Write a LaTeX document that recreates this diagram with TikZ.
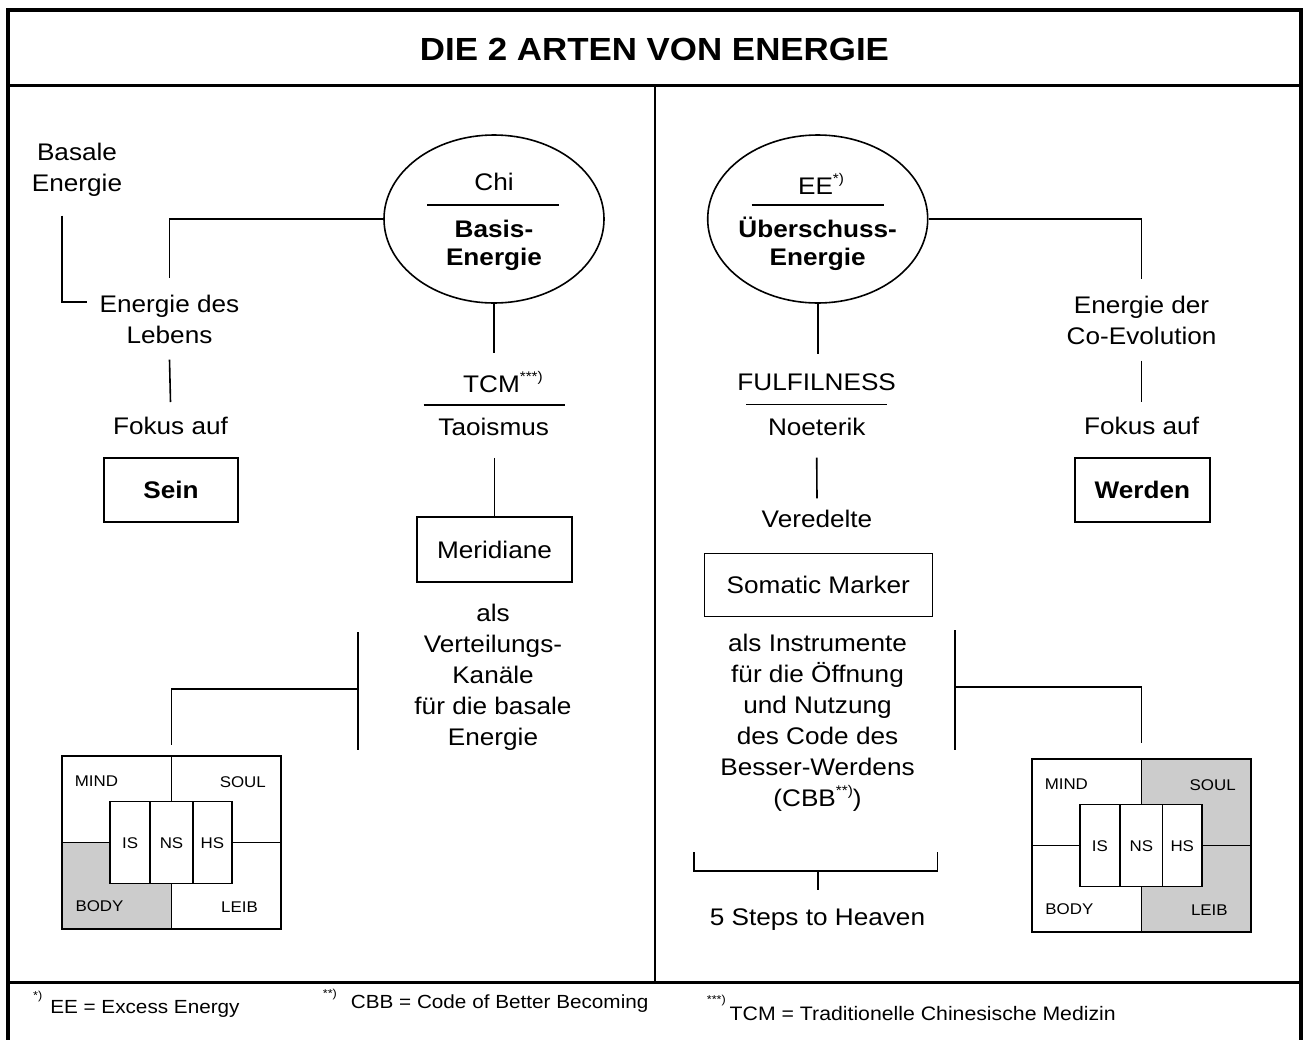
\documentclass[tikz,border=0pt]{standalone}
\usepackage{fontspec}
\setmainfont[FakeStretch=1.09]{Liberation Sans}
\usetikzlibrary{shapes.geometric,calc}
\definecolor{cellgray}{RGB}{204,204,204}

\newcommand{\bodyfont}{\fontsize{24}{31}\selectfont}
% raised footnote marks
\newcommand{\smk}[1]{\raisebox{11pt}{\fontsize{14}{14}\selectfont #1}}
\newcommand{\fnm}[2]{\raisebox{#1}{\fontsize{11.5}{11.5}\selectfont #2}}

% quadrant diagram: #1 name, #2 centre, #3 shading code
\newcommand{\quadgrid}[3]{%
  \node[minimum width=219pt, minimum height=173pt, inner sep=0pt, outer sep=0pt] (#1) at #2 {};
  #3
  \draw[conn] (#1.north west) rectangle (#1.south east);
  \draw[conn] (#1.north) -- (#1.south);
  \draw[conn] (#1.west) -- (#1.east);
  \draw[conn, fill=white] ($(#1.center)+(-61.5,-41)$) rectangle ($(#1.center)+(60.5,41)$);
  \draw[conn] ($(#1.center)+(-21.3,-41)$) -- ($(#1.center)+(-21.3,41)$);
  \draw[conn] ($(#1.center)+(21.3,-41)$) -- ($(#1.center)+(21.3,41)$);
  \node[lbl] (#1-mind) at ($(#1.center)+(-75,-61.5)$) {MIND};
  \node[lbl] (#1-soul) at ($(#1.center)+(71.3,-60.5)$) {SOUL};
  \node[lbl] (#1-body) at ($(#1.center)+(-72,63.5)$) {BODY};
  \node[lbl] (#1-leib) at ($(#1.center)+(68,65)$) {LEIB};
  \node[lbl] (#1-is) at ($(#1.center)+(-41.4,0.5)$) {IS};
  \node[lbl] (#1-ns) at ($(#1.center)+(0,0.5)$) {NS};
  \node[lbl] (#1-hs) at ($(#1.center)+(40.9,0.5)$) {HS};
}

\begin{document}
\begin{tikzpicture}[x=1pt, y=-1pt,
  conn/.style={line width=1.6pt},
  txt/.style={inner sep=0pt, align=center, font=\bodyfont},
  boxed/.style={draw, line width=1.6pt, inner sep=0pt, font=\bodyfont},
  oval/.style={ellipse, draw, line width=1.6pt, minimum width=220pt, minimum height=168pt, inner sep=0pt},
  lbl/.style={inner sep=0pt, font=\fontsize{15.5}{15.5}\selectfont},
  ovaltxt/.style={inner sep=0pt, align=center, font=\fontsize{24}{28}\selectfont\bfseries},
  fn/.style={anchor=base west, inner sep=0pt, font=\fontsize{19}{19}\selectfont}]
\useasboundingbox (0,0) rectangle (1308,1039);

% frame, title band, footer band, column divider
\draw[line width=4pt, line join=miter] (8,1046) -- (8,10) -- (1301,10) -- (1301,1046);
\draw[line width=3.5pt] (8,85.5) -- (1301,85.5);
\draw[line width=3pt] (8,982) -- (1301,982);
\draw[line width=2.5pt] (655,85.5) -- (655,982);

\node[inner sep=0pt, font=\fontsize{32}{32}\selectfont\bfseries] (title) at (654.5,49.5) {DIE 2 ARTEN VON ENERGIE};

% ---------- left column: basic energy ----------
\node[txt, anchor=north] (basale) at (77,143.3) {Basale\\Energie};
\node[txt, anchor=north] (lebens) at (169.5,295) {Energie des\\Lebens};
\node[txt, anchor=north] (fokusL) at (170.5,416.5) {Fokus auf};
\node[boxed, minimum width=134pt, minimum height=64pt, font=\bodyfont\bfseries] (sein) at (171,490) {Sein};

\node[oval] (chi) at (494,219) {};
\node[txt, anchor=north] (chiname) at (494,173.3) {Chi};
\draw[conn] ($(chi.center)+(-67,-14)$) -- ($(chi.center)+(65,-14)$);
\node[ovaltxt, anchor=north] (basis) at (494,220) {Basis-\\Energie};

\node[txt, anchor=north] (tcm) at (491.5,370.7) {TCM\rlap{\smk{***)}}};
\draw[conn] ($(chi.south |- tcm.north)+(-70.5,34.3)$) -- ++(141,0);
\node[txt, anchor=north] (tao) at (493.7,418.3) {Taoismus};
\node[boxed, minimum width=155pt, minimum height=65pt] (meri) at (494.5,549.5) {Meridiane};
\node[txt, anchor=north] (kanal) at (493,603.5) {als\\Verteilungs-\\Kanäle\\für die basale\\Energie};

\draw[conn] ($(basale.south)+(-15,18.5)$) |- ($(lebens.north west)+(-12.7,6.7)$);
\draw[conn] (chi.west) -| ($(lebens.north)+(0,-17)$);
\draw[conn] ($(lebens.south)+(0,15.5)$) -- ($(fokusL.north)+(0,-14.5)$);
\draw[conn] (chi.south) -- ($(chi.south |- tcm.north)+(0,-17.7)$);
\draw[conn] ($(meri.north |- tao.south)+(0,21.5)$) -- (meri.north);

\quadgrid{gridL}{(171.5,842.5)}{\fill[cellgray] (gridL.west) rectangle (gridL.south);}

\coordinate (lbarTop) at (358,632);
\coordinate (lbarBot) at (358,750);
\draw[conn] (lbarTop) -- (lbarBot);
\draw[conn] ($(lbarTop)!0.485!(lbarBot)$) -| ($(gridL.north)+(0,-11)$);

% ---------- right column: excess energy ----------
\node[oval] (ee) at (817.7,219) {};
\node[txt, anchor=north] (eename) at (815.5,173.3) {EE\rlap{\smk{*)}}};
\draw[conn] ($(ee.center)+(-66,-14)$) -- ($(ee.center)+(66,-14)$);
\node[ovaltxt, anchor=north] (ueber) at (817.7,220) {\smash{Ü}berschuss-\\Energie};

\node[txt, anchor=north] (coevo) at (1141.6,295.5) {Energie der\\Co-Evolution};
\node[txt, anchor=north] (fokusR) at (1141.6,416.5) {Fokus auf};
\node[boxed, minimum width=135pt, minimum height=64pt, font=\bodyfont\bfseries] (werden) at (1142.4,490) {Werden};

\node[txt, anchor=north] (fulfil) at (816.7,373.3) {FULFILNESS};
\draw[conn] ($(fulfil.north)+(-70.3,31)$) -- ($(fulfil.north)+(70.3,31)$);
\node[txt, anchor=north] (noet) at (816.7,418.3) {Noeterik};
\node[txt, anchor=north] (vered) at (817,510) {Veredelte};
\node[boxed, minimum width=228pt, minimum height=63pt] (soma) at (818.3,585) {Somatic Marker};
\node[txt, anchor=north] (instr) at (817.5,633.5) {als Instrumente\\für die Öffnung\\und Nutzung\\des Code des\\Besser-Werdens\\(CBB\smk{**)})};
\node[txt, anchor=north] (steps) at (817.5,908.5) {5 Steps to Heaven};

\draw[conn] (ee.east) -| ($(coevo.north)+(0,-16.5)$);
\draw[conn] ($(coevo.south)+(0,16)$) -- ($(fokusR.north)+(0,-15)$);
\draw[conn] (ee.south) -- ($(ee.south |- fulfil.north)+(0,-19.3)$);
\draw[conn] ($(noet.south)+(0,21.2)$) -- ($(vered.north)+(0,-11.7)$);

\quadgrid{gridR}{(1141.35,845.5)}{\fill[cellgray] (gridR.north) rectangle (gridR.south east);}

\coordinate (rbarTop) at (955,630);
\coordinate (rbarBot) at (955,750);
\draw[conn] (rbarTop) -- (rbarBot);
\draw[conn] ($(rbarTop)!0.475!(rbarBot)$) -| ($(gridR.north)+(0,-16)$);

% bracket over the five steps
\coordinate (brk) at ($(steps.north)+(0.5,-37.8)$);
\draw[conn] ($(brk)+(-124,-18.7)$) |- ($(brk)+(119.5,0)$) -- ($(brk)+(119.5,-18.7)$);
\draw[conn] (brk) -- ($(steps.north)+(0.5,-18.5)$);

% ---------- footnotes ----------
\node[fn] (fnA) at (33,1013) {\fnm{13.5pt}{*)}\hspace{8pt}EE = Excess Energy};
\node[fn] (fnB) at (322.7,1008) {\fnm{11pt}{**)}\hspace{14pt}CBB = Code of Better Becoming};
\node[fn, font=\fontsize{19.5}{19.5}\selectfont] (fnC) at (706.7,1020.5) {\fnm{17pt}{***)}\hspace{4pt}TCM = Traditionelle Chinesische Medizin};
\end{tikzpicture}
\end{document}
